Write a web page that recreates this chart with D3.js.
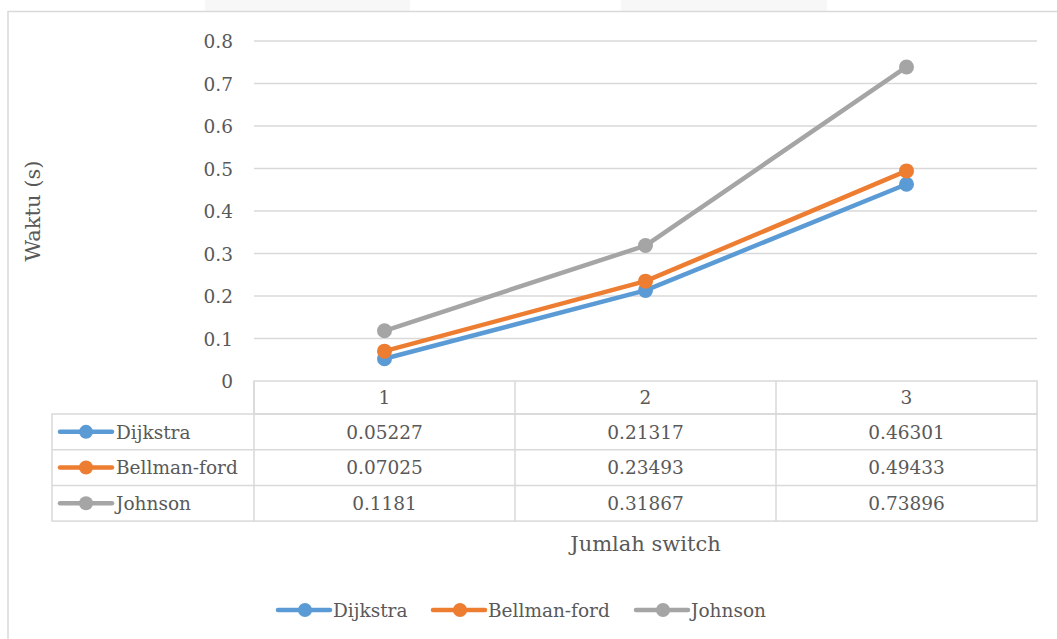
<!DOCTYPE html>
<html>
<head>
<meta charset="utf-8">
<script src="https://cdn.jsdelivr.net/npm/d3@7"></script>
<style>
  html, body { margin: 0; padding: 0; background: #ffffff; }
  svg { display: block; }
  svg text { fill: #595959; }
</style>
</head>
<body>
<svg id="chart" width="1057" height="639"></svg>
<script>
// Data
const categories = ["1", "2", "3"];
const seriesNames = ["Dijkstra", "Bellman-ford", "Johnson"];
const dijkstra = [0.05227, 0.21317, 0.46301];
const bellmanFord = [0.07025, 0.23493, 0.49433];
const johnson = [0.1181, 0.31867, 0.73896];
const yTicks = [0, 0.1, 0.2, 0.3, 0.4, 0.5, 0.6, 0.7, 0.8];
const colors = ["#5b9bd5", "#ed7d31", "#a5a5a5"];

const series = [
  { name: seriesNames[0], values: dijkstra, color: colors[0] },
  { name: seriesNames[1], values: bellmanFord, color: colors[1] },
  { name: seriesNames[2], values: johnson, color: colors[2] }
];

const FONT = "'DejaVu Serif', serif";
const FS = 18.5;    // body text size
const TS = 21;      // axis title size
const svg = d3.select("#chart").attr("font-family", FONT);
const gridColor = "#d9d9d9";

// Page background strips and chart frame
svg.append("rect").attr("x", 205).attr("y", 0).attr("width", 205).attr("height", 11).attr("fill", "#f7f7f7");
svg.append("rect").attr("x", 621).attr("y", 0).attr("width", 206).attr("height", 11).attr("fill", "#f7f7f7");
svg.append("rect").attr("x", 8).attr("y", 11.5).attr("width", 1100).attr("height", 700)
  .attr("fill", "#ffffff").attr("stroke", gridColor).attr("stroke-width", 1.5);

// Scales
const plotLeft = 254, plotRight = 1037, plotTop = 41, plotBottom = 381;
const x = d3.scaleBand().domain(categories).range([plotLeft, plotRight]);
const y = d3.scaleLinear().domain([0, 0.8]).range([plotBottom, plotTop]);

// Gridlines
svg.append("g").selectAll("line").data(yTicks.filter(d => d > 0)).join("line")
  .attr("x1", plotLeft).attr("x2", plotRight)
  .attr("y1", d => y(d)).attr("y2", d => y(d))
  .attr("stroke", gridColor).attr("stroke-width", 1.3);

// Y axis labels
const yAxis = d3.axisLeft(y).tickValues(yTicks).tickSize(0).tickPadding(0)
  .tickFormat(d => d3.format("~g")(d));
const yg = svg.append("g").attr("transform", `translate(233,0)`).call(yAxis)
  .attr("font-family", FONT).attr("font-size", FS);
yg.select(".domain").remove();
yg.selectAll("text").attr("fill", "#595959").attr("dy", "0.36em");

// Y axis title
svg.append("text")
  .attr("transform", `translate(40,${(plotTop + plotBottom) / 2}) rotate(-90)`)
  .attr("text-anchor", "middle").attr("font-size", TS)
  .text("Waktu (s)");

// Lines and markers
const line = d3.line().x((d, i) => x(categories[i]) + x.bandwidth() / 2).y(d => y(d));
const sg = svg.append("g");
series.forEach(s => {
  sg.append("path").datum(s.values).attr("d", line)
    .attr("fill", "none").attr("stroke", s.color).attr("stroke-width", 4.5)
    .attr("stroke-linejoin", "round").attr("stroke-linecap", "round");
  sg.selectAll(null).data(s.values).join("circle")
    .attr("cx", (d, i) => x(categories[i]) + x.bandwidth() / 2)
    .attr("cy", d => y(d)).attr("r", 7.5).attr("fill", s.color);
});

// Data table
const headerTop = plotBottom, headerBottom = 414;
const rowH = 35.7;
const tableLeft = 52;
const tg = svg.append("g");
const rowY = i => headerBottom + i * rowH;
const tableBottom = rowY(series.length);

// Header cells
tg.append("rect").attr("x", plotLeft).attr("y", headerTop).attr("width", plotRight - plotLeft)
  .attr("height", headerBottom - headerTop).attr("fill", "none").attr("stroke", gridColor).attr("stroke-width", 1.5);
tg.selectAll(".hdr").data(categories).join("text").attr("class", "hdr")
  .attr("x", d => x(d) + x.bandwidth() / 2).attr("y", (headerTop + headerBottom) / 2)
  .attr("dy", "0.36em").attr("text-anchor", "middle").attr("font-size", FS).text(d => d);

// Body grid
tg.append("rect").attr("x", tableLeft).attr("y", headerBottom).attr("width", plotRight - tableLeft)
  .attr("height", tableBottom - headerBottom).attr("fill", "none").attr("stroke", gridColor).attr("stroke-width", 1.5);
series.forEach((s, i) => {
  if (i > 0) tg.append("line").attr("x1", tableLeft).attr("x2", plotRight)
    .attr("y1", rowY(i)).attr("y2", rowY(i)).attr("stroke", gridColor).attr("stroke-width", 1.5);
});
[plotLeft].concat(categories.slice(1).map(c => x(c))).forEach(xx => {
  tg.append("line").attr("x1", xx).attr("x2", xx).attr("y1", headerTop).attr("y2", tableBottom)
    .attr("stroke", gridColor).attr("stroke-width", 1.5);
});

// Row keys, names and values
series.forEach((s, i) => {
  const cy = rowY(i) + rowH / 2;
  tg.append("line").attr("x1", 60).attr("x2", 112).attr("y1", cy).attr("y2", cy)
    .attr("stroke", s.color).attr("stroke-width", 4.5).attr("stroke-linecap", "round");
  tg.append("circle").attr("cx", 86).attr("cy", cy).attr("r", 7).attr("fill", s.color);
  tg.append("text").attr("x", 116).attr("y", cy).attr("dy", "0.36em").attr("font-size", FS).text(s.name);
  tg.selectAll(null).data(s.values).join("text")
    .attr("x", (d, j) => x(categories[j]) + x.bandwidth() / 2).attr("y", cy).attr("dy", "0.36em")
    .attr("text-anchor", "middle").attr("font-size", FS).text(d => String(d));
});

// X axis title
svg.append("text").attr("x", (plotLeft + plotRight) / 2).attr("y", 551)
  .attr("text-anchor", "middle").attr("font-size", TS).text("Jumlah switch");

// Legend
const legendX = [278, 433, 636];
const lg = svg.append("g");
series.forEach((s, i) => {
  const lx = legendX[i], ly = 610;
  lg.append("line").attr("x1", lx).attr("x2", lx + 52).attr("y1", ly).attr("y2", ly)
    .attr("stroke", s.color).attr("stroke-width", 4.5).attr("stroke-linecap", "round");
  lg.append("circle").attr("cx", lx + 27).attr("cy", ly).attr("r", 7).attr("fill", s.color);
  lg.append("text").attr("x", lx + 55).attr("y", ly).attr("dy", "0.36em").attr("font-size", FS).text(s.name);
});
</script>
</body>
</html>
